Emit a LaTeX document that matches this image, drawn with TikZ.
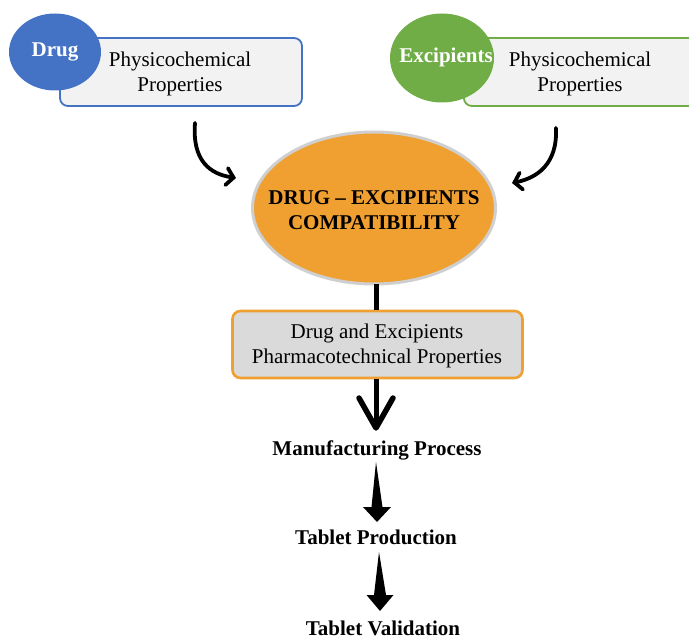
\documentclass[tikz,border=0pt]{standalone}
\usepackage{fontspec}
\setmainfont{Liberation Serif}
\usetikzlibrary{arrows.meta,shapes.geometric,calc}
\definecolor{dblue}{HTML}{4472C4}
\definecolor{egreen}{HTML}{70AD47}
\definecolor{corange}{HTML}{EFA030}
\definecolor{lgray}{HTML}{F2F2F2}
\definecolor{mgray}{HTML}{DADADA}
\definecolor{bgray}{HTML}{CFCFCF}
\begin{document}
\begin{tikzpicture}[x=1pt,y=-1pt,
  txt/.style={font=\fontsize{21}{25.5}\selectfont, align=center, inner sep=0pt},
  btxt/.style={font=\fontsize{21}{25.5}\selectfont\bfseries, align=center, inner sep=0pt},
  propbox/.style={rectangle, rounded corners=8pt, fill=lgray, line width=1.8pt},
  blob/.style={ellipse, inner sep=0pt},
  curvearrow/.style={line width=3.8pt, line cap=round, -{Straight Barb[length=7pt,width=17pt,line cap=round]}},
  taper/.style={fill=black}
]
\useasboundingbox (0,0) rectangle (689,639);

% top left: drug
\node[propbox, draw=dblue, minimum width=242, minimum height=68] (dbox) at (181,72) {};
\node[txt] (dtxt) at (180,74) {Physicochemical\\Properties};
\node[blob, fill=dblue, minimum width=92, minimum height=77] (drug) at (55,52) {};
\node[btxt, text=white] (drugt) at (drug.center) {Drug};

% top right: excipients
\node[propbox, draw=egreen, minimum width=240, minimum height=68, anchor=west] (ebox) at (463,72) {};
\node[txt] (etxt) at (580,74) {Physicochemical\\Properties};
\node[blob, fill=egreen, minimum width=104, minimum height=89] (exc) at (442,58) {};
\node[btxt, text=white] (exct) at (446,57) {Excipients};

% central ellipse
\node[ellipse, fill=corange, draw=bgray, line width=3pt, minimum width=243, minimum height=152, inner sep=0pt] (comp) at (374,208) {};
\node[btxt] (compt) at (374,210) {DRUG -- EXCIPIENTS\\COMPATIBILITY};

% curved arrows
\coordinate (lend) at (236,178);
\coordinate (rend) at (512,183);
\draw[curvearrow] ($(dbox.south)+(14,16)$) .. controls +(-3,38) and +(-26,-4) .. (lend);
\draw[curvearrow] ($(ebox.south)+(-28,21)$) .. controls +(2,36) and +(25,-5) .. (rend);

% pharmacotechnical box
\node[rectangle, rounded corners=8pt, fill=mgray, draw=corange, line width=2.6pt, minimum width=290, minimum height=67] (pharm) at (377.5,344.5) {};
\node[txt] (pharmt) at (377,346) {Drug and Excipients\\Pharmacotechnical Properties};
\coordinate (cs) at (376,284);
\draw[line width=5pt] (cs) -- (cs |- pharm.north);

% manufacturing chain
\node[btxt] (manu) at (377,450) {Manufacturing Process};
\node[btxt] (prod) at (376,537) {Tablet Production};
\node[btxt] (valid) at (383,628) {Tablet Validation};

\coordinate (tip0) at (376,428);
\draw[line width=5pt] (tip0 |- pharm.south) -- ($(tip0)+(0,-6)$);
\draw[line width=5.5pt, line cap=round, line join=round] ($(tip0)+(-17,-30)$) -- (tip0) -- ($(tip0)+(17,-30)$);

\coordinate (top1) at (376,462);
\coordinate (tip1) at (377,522);
\fill[taper] (top1) -- ($(tip1)+(-5.5,-15)$) -- ($(tip1)+(-14,-15)$) -- (tip1) -- ($(tip1)+(14,-15)$) -- ($(tip1)+(5.5,-15)$) -- cycle;

\coordinate (top2) at (379,552);
\coordinate (tip2) at (380,611);
\fill[taper] (top2) -- ($(tip2)+(-6,-16)$) -- ($(tip2)+(-13.5,-16)$) -- (tip2) -- ($(tip2)+(13.5,-16)$) -- ($(tip2)+(6,-16)$) -- cycle;
\end{tikzpicture}
\end{document}
